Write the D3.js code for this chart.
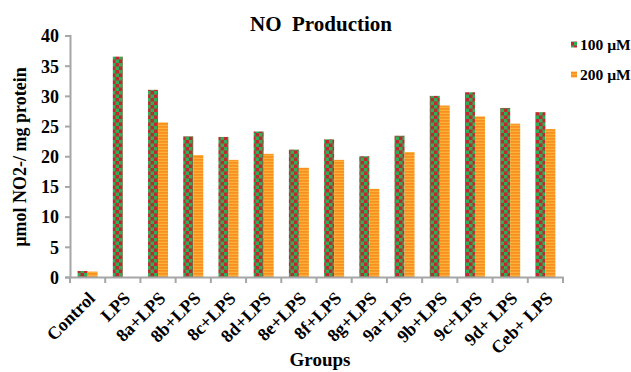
<!DOCTYPE html>
<html><head><meta charset="utf-8">
<script src="https://cdn.jsdelivr.net/npm/d3@7"></script>
<style>body{margin:0;background:#fff}svg{display:block}text{font-family:"Liberation Serif","Times New Roman",serif;font-weight:bold;fill:#000}</style>
</head><body><svg id="c" width="631" height="372"></svg>
<script>
const categories = ["Control","LPS","8a+LPS","8b+LPS","8c+LPS","8d+LPS","8e+LPS","8f+LPS","8g+LPS","9a+LPS","9b+LPS","9c+LPS","9d+ LPS","Ceb+ LPS"];
const series100 = [1.0,36.5,31.0,23.3,23.2,24.1,21.1,22.8,20.0,23.4,30.0,30.6,28.0,27.3];
const series200 = [0.9,0,25.6,20.2,19.4,20.4,18.1,19.4,14.6,20.7,28.4,26.6,25.4,24.5];
const seriesNames = ["100 µM","200 µM"];
const yTicks = [0,5,10,15,20,25,30,35,40];

const svg = d3.select("#c");
const defs = svg.append("defs");
const pc = defs.append("pattern").attr("id","chk").attr("patternUnits","userSpaceOnUse").attr("width",7).attr("height",7);
pc.append("rect").attr("width",7).attr("height",7).attr("fill","#c1272d");
pc.append("rect").attr("width",3.5).attr("height",3.5).attr("fill","#2bb05a");
pc.append("rect").attr("x",3.5).attr("y",3.5).attr("width",3.5).attr("height",3.5).attr("fill","#2bb05a");
const ps = defs.append("pattern").attr("id","str").attr("patternUnits","userSpaceOnUse").attr("width",4).attr("height",3);
ps.append("rect").attr("width",4).attr("height",3).attr("fill","#fbb03b");
ps.append("rect").attr("width",4).attr("height",1.7).attr("fill","#f7901e");

const m = {l:70};
const x = d3.scaleBand().domain(categories).range([m.l, 563]);
const x1 = d3.scaleBand().domain([0,1]).range([0, 20]);
const y = d3.scaleLinear().domain([0,40]).range([277, 35.5]);

const g = svg.append("g");
const data = categories.map((c,i)=>({c, v:[series100[i], series200[i]]}));
const fills = ["url(#chk)","url(#str)"];
data.forEach(d=>{
  d.v.forEach((v,k)=>{
    if(v<=0) return;
    g.append("rect")
      .attr("x", x(d.c) + (x.bandwidth()-20)/2 + x1(k))
      .attr("y", y(v))
      .attr("width", x1.bandwidth())
      .attr("height", y(0)-y(v))
      .attr("fill", fills[k]);
  });
});

const ya = svg.append("g").attr("transform",`translate(${m.l},0)`)
  .call(d3.axisLeft(y).tickValues(yTicks).tickSize(5).tickPadding(6));
ya.attr("font-family",null);
ya.select(".domain").attr("stroke","#a6a6a6").attr("stroke-width",2);
ya.selectAll(".tick line").attr("stroke","#a6a6a6").attr("stroke-width",2);
ya.selectAll(".tick text").style("font-size","18px").attr("dy","0.35em");

const xa = svg.append("g").attr("transform",`translate(0,${y(0)})`)
  .call(d3.axisBottom(x).tickSize(0).tickFormat(""));
xa.select(".domain").attr("stroke","#a6a6a6").attr("stroke-width",2);
const edges = categories.map(c=>x(c)).concat([x(categories[categories.length-1])+x.bandwidth()]);
xa.selectAll(".edge").data(edges).enter().append("line")
  .attr("x1",d=>d).attr("x2",d=>d).attr("y1",0).attr("y2",6)
  .attr("stroke","#a6a6a6").attr("stroke-width",2);
svg.append("g").selectAll("text").data(categories).enter().append("text")
  .attr("transform",d=>`translate(${x(d)+x.bandwidth()/2+4},${y(0)+18}) rotate(-45)`)
  .attr("text-anchor","end").attr("dy","0.35em")
  .style("font-size","18px").text(d=>d);

svg.append("text").attr("x",321).attr("y",31).attr("text-anchor","middle").style("font-size","21px").attr("xml:space","preserve").text("NO  Production");
svg.append("text").attr("transform","translate(26,157) rotate(-90)").attr("text-anchor","middle").style("font-size","18px").text("µmol NO2-/ mg protein");
svg.append("text").attr("x",320).attr("y",366).attr("text-anchor","middle").style("font-size","19px").text("Groups");

const lg = svg.append("g");
seriesNames.forEach((n,i)=>{
  const yy = 45 + i*30;
  lg.append("rect").attr("x",571).attr("y",yy-3.5).attr("width",6).attr("height",6).attr("fill",fills[i]);
  lg.append("text").attr("x",580).attr("y",yy).attr("dy","0.35em").style("font-size","15.5px").text(n);
});
</script></body></html>
